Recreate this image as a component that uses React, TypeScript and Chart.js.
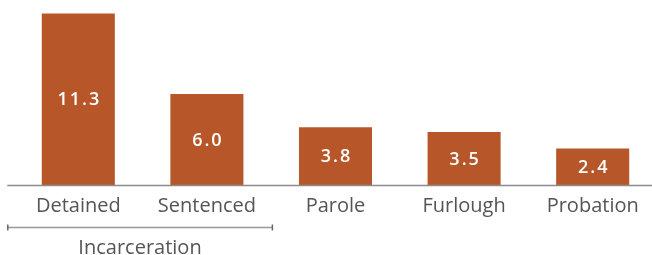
import React, { useEffect, useRef } from "react";
import { Chart, registerables } from "chart.js";

Chart.register(...registerables);

const categories = ["Detained", "Sentenced", "Parole", "Furlough", "Probation"];
const values = [11.3, 6.0, 3.8, 3.5, 2.4];
const groupLabel = "Incarceration";
const groupRange = [0, 1];

const BAR = "#b75729";
const TEXT = "#555555";
const LINE = "#8c8c8c";
const FONT = "'Open Sans', Roboto, sans-serif";

const overlay = {
  id: "overlay",
  afterDatasetsDraw(chart: any) {
    const { ctx, chartArea } = chart;
    const xs = chart.scales.x;
    const meta = chart.getDatasetMeta(0);
    ctx.save();
    // value labels
    ctx.fillStyle = "#ffffff";
    ctx.font = `600 18px ${FONT}`;
    try { (ctx as any).letterSpacing = "2px"; } catch (e) {}
    ctx.textAlign = "center";
    ctx.textBaseline = "middle";
    meta.data.forEach((bar: any, i: number) => {
      const cy = (bar.y + bar.base) / 2;
      ctx.fillText(values[i].toFixed(1), bar.x + 1, cy + 1);
    });
    try { (ctx as any).letterSpacing = "0px"; } catch (e) {}
    // baseline axis
    const x0 = xs.getPixelForValue(groupRange[0]) - 71;
    const x1 = xs.getPixelForValue(groupRange[1]) + 66;
    ctx.strokeStyle = LINE;
    ctx.lineWidth = 1.5;
    ctx.beginPath();
    ctx.moveTo(x0, chartArea.bottom + 0.5);
    ctx.lineTo(chart.width, chartArea.bottom + 0.5);
    ctx.stroke();
    // bracket
    const by = chartArea.bottom + 42.5;
    ctx.strokeStyle = "#999999";
    ctx.lineWidth = 1.5;
    ctx.beginPath();
    ctx.moveTo(x0, by);
    ctx.lineTo(x1, by);
    ctx.stroke();
    ctx.lineWidth = 1.5;
    ctx.strokeStyle = "#666666";
    ctx.beginPath();
    ctx.moveTo(x0 + 0.5, by - 3);
    ctx.lineTo(x0 + 0.5, by + 3);
    ctx.moveTo(x1 - 0.5, by - 3);
    ctx.lineTo(x1 - 0.5, by + 3);
    ctx.stroke();
    ctx.fillStyle = TEXT;
    ctx.font = `400 20px ${FONT}`;
    ctx.textBaseline = "middle";
    ctx.fillText(groupLabel, 140, chartArea.bottom + 63);
    ctx.restore();
  },
};

export default function App() {
  const ref = useRef<HTMLCanvasElement>(null);
  useEffect(() => {
    if (!ref.current) return;
    const chart = new Chart(ref.current, {
      type: "bar",
      data: {
        labels: categories,
        datasets: [
          {
            data: values,
            backgroundColor: BAR,
            borderWidth: 0,
            categoryPercentage: 1,
            barPercentage: 0.568,
          },
        ],
      },
      options: {
        animation: false,
        responsive: false,
        events: [],
        layout: { padding: { left: 14, right: 3, top: 0, bottom: 0 } },
        plugins: { legend: { display: false }, tooltip: { enabled: false } },
        scales: {
          x: {
            grid: { display: false, drawTicks: false },
            border: { display: false },
            ticks: {
              color: TEXT,
              font: { family: FONT, size: 20, weight: "400" as any },
              padding: 9,
              maxRotation: 0,
              autoSkip: false,
            },
            afterFit: (s: any) => {
              s.height = 70;
            },
          },
          y: {
            display: false,
            min: 0,
            max: 12.19,
          },
        },
      },
      plugins: [overlay],
    });
    return () => chart.destroy();
  }, []);
  return (
    <div style={{ position: "absolute", left: 0, top: 0, width: 652, height: 255, overflow: "hidden", background: "#fff" }}>
      <canvas ref={ref} width={660} height={255} style={{ width: 660, height: 255, display: "block" }} />
    </div>
  );
}
